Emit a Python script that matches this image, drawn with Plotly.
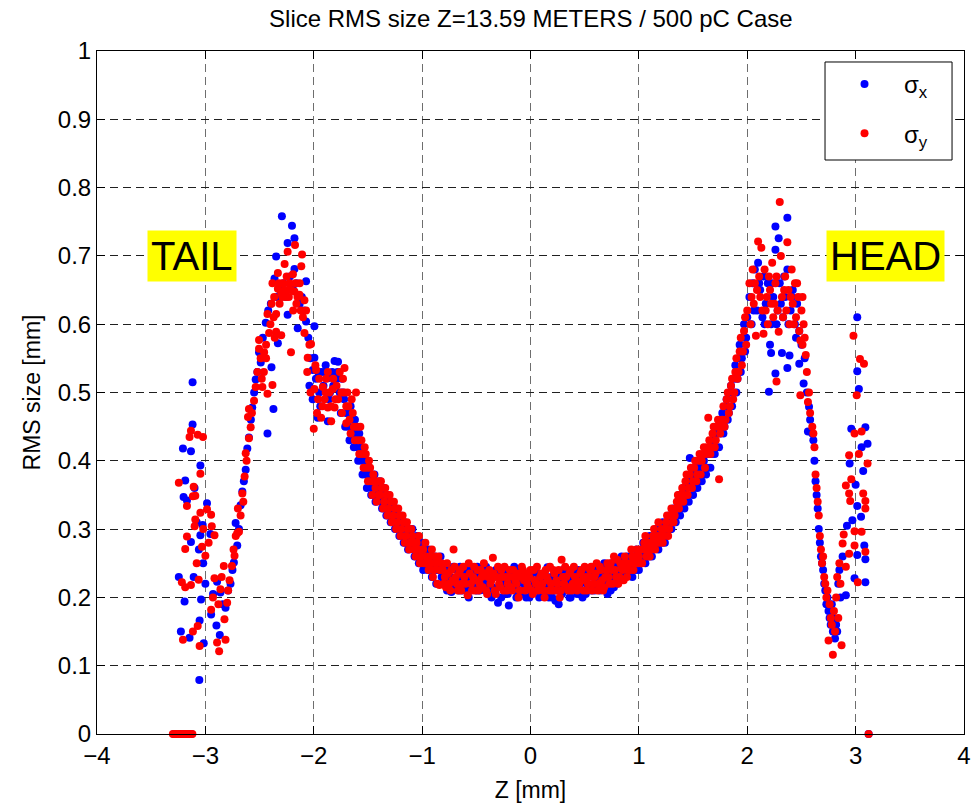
import plotly.graph_objects as go

# (z [mm], sigma_x [mm])
sigma_x_pts = [
    (-3.29, 0), (-3.27, 0), (-3.25, 0), (-3.23, 0), (-3.21, 0), (-3.19, 0), (-3.17, 0), (-3.15, 0), (-3.13, 0),
    (-3.245, 0.230), (-3.226, 0.150), (-3.207, 0.418), (-3.201, 0.347), (-3.192, 0.194), (-3.186, 0.371),
    (-3.170, 0.342), (-3.146, 0.141), (-3.133, 0.414), (-3.133, 0.281), (-3.118, 0.515), (-3.118, 0.453),
    (-3.108, 0.230), (-3.056, 0.079), (-3.053, 0.166), (-3.046, 0.393), (-3.046, 0.291), (-3.040, 0.197),
    (-3.025, 0.306), (-3.015, 0.133), (-2.985, 0.338), (-2.954, 0.293), (-3.10, 0.36), (-3.08, 0.31),
    (-3.06, 0.27), (-3.02, 0.25), (-3.00, 0.22),
    (-2.947, 0.175), (-2.929, 0.205), (-2.898, 0.159), (-2.892, 0.223), (-2.867, 0.145), (-2.861, 0.207),
    (-2.84, 0.19), (-2.814, 0.185), (-2.79, 0.21), (-2.768, 0.220), (-2.75, 0.24), (-2.737, 0.251),
    (-2.721, 0.309), (-2.706, 0.276), (-2.69, 0.30), (-2.675, 0.335), (-2.659, 0.355), (-2.645, 0.37),
    (-2.628, 0.387), (-2.613, 0.418), (-2.598, 0.434), (-2.58, 0.46), (-2.567, 0.478), (-2.55, 0.50),
    (-2.536, 0.519), (-2.52, 0.53), (-2.505, 0.559), (-2.489, 0.544), (-2.47, 0.58), (-2.443, 0.602),
    (-2.427, 0.440), (-2.42, 0.62), (-2.396, 0.630), (-2.390, 0.537), (-2.372, 0.476), (-2.362, 0.667),
    (-2.347, 0.699), (-2.34, 0.64), (-2.331, 0.572), (-2.31, 0.65), (-2.294, 0.758), (-2.28, 0.66),
    (-2.26, 0.64), (-2.241, 0.719), (-2.241, 0.614), (-2.22, 0.67), (-2.201, 0.744), (-2.19, 0.65),
    (-2.178, 0.726), (-2.178, 0.681), (-2.16, 0.66), (-2.148, 0.594), (-2.13, 0.63), (-2.11, 0.64),
    (-2.09, 0.62), (-2.071, 0.663), (-2.071, 0.604), (-2.05, 0.58), (-2.03, 0.55), (-2.009, 0.533),
    (-1.994, 0.597), (-1.994, 0.551), (-1.98, 0.52), (-1.963, 0.463), (-1.95, 0.50), (-1.93, 0.53),
    (-1.91, 0.51), (-1.89, 0.54), (-1.870, 0.521), (-1.870, 0.458), (-1.85, 0.50), (-1.83, 0.53),
    (-1.808, 0.546), (-1.79, 0.52), (-1.776, 0.545), (-1.76, 0.50),
    (-1.74, 0.52), (-1.72, 0.49), (-1.70, 0.47), (-1.68, 0.45), (-1.66, 0.48), (-1.64, 0.44), (-1.62, 0.46),
    (-1.60, 0.42), (-1.58, 0.44), (-1.56, 0.40), (-1.54, 0.41), (-1.52, 0.38), (-1.50, 0.39), (-1.48, 0.37),
    (-1.46, 0.36), (-1.44, 0.38), (-1.42, 0.35), (-1.40, 0.36), (-1.38, 0.34), (-1.36, 0.35), (-1.34, 0.33),
    (-1.32, 0.34), (-1.30, 0.32), (-1.28, 0.33), (-1.26, 0.31), (-1.24, 0.33), (-1.22, 0.30), (-1.20, 0.32),
    (-1.18, 0.29), (-1.16, 0.31), (-1.14, 0.28), (-1.12, 0.30), (-1.10, 0.29), (-1.08, 0.27), (-1.06, 0.28),
    (-1.04, 0.26), (-1.02, 0.27), (-1.00, 0.28), (-0.98, 0.26), (-0.96, 0.25), (-0.94, 0.27), (-0.92, 0.25),
    (-0.90, 0.24), (-0.88, 0.26), (-0.86, 0.24), (-0.84, 0.25), (-0.82, 0.23), (-0.80, 0.24),
    (-0.78, 0.22), (-0.76, 0.24), (-0.74, 0.23), (-0.73, 0.208), (-0.70, 0.22), (-0.68, 0.24), (-0.66, 0.21),
    (-0.64, 0.23), (-0.62, 0.22), (-0.60, 0.24), (-0.58, 0.21), (-0.56, 0.23), (-0.54, 0.22), (-0.52, 0.24),
    (-0.50, 0.21), (-0.48, 0.23), (-0.46, 0.22), (-0.44, 0.24), (-0.42, 0.21), (-0.40, 0.23), (-0.38, 0.22),
    (-0.36, 0.20), (-0.34, 0.23), (-0.32, 0.24), (-0.30, 0.192), (-0.28, 0.22), (-0.26, 0.23), (-0.24, 0.21),
    (-0.22, 0.24), (-0.20, 0.188), (-0.18, 0.22), (-0.16, 0.23), (-0.14, 0.21), (-0.12, 0.22), (-0.10, 0.24),
    (-0.08, 0.21), (-0.06, 0.22), (-0.04, 0.20), (-0.02, 0.23), (0.00, 0.21), (0.02, 0.22), (0.04, 0.24),
    (0.06, 0.21), (0.08, 0.20), (0.10, 0.22), (0.12, 0.23), (0.14, 0.21), (0.157, 0.244), (0.18, 0.22),
    (0.20, 0.20), (0.22, 0.23), (0.24, 0.21), (0.26, 0.19), (0.28, 0.22), (0.30, 0.24), (0.32, 0.21),
    (0.34, 0.22), (0.36, 0.20), (0.38, 0.23), (0.40, 0.22), (0.42, 0.21), (0.44, 0.24), (0.46, 0.22),
    (0.48, 0.20), (0.50, 0.23), (0.52, 0.22), (0.54, 0.24), (0.56, 0.21), (0.58, 0.23), (0.60, 0.22),
    (0.62, 0.24), (0.64, 0.21), (0.66, 0.23), (0.68, 0.25), (0.70, 0.22), (0.72, 0.24), (0.74, 0.21),
    (0.76, 0.23), (0.78, 0.25), (0.80, 0.22), (0.82, 0.24), (0.84, 0.26), (0.86, 0.23), (0.88, 0.25),
    (0.90, 0.24),
    (0.92, 0.26), (0.94, 0.23), (0.96, 0.25), (0.98, 0.27), (1.00, 0.24), (1.02, 0.26), (1.04, 0.28),
    (1.06, 0.25), (1.08, 0.27), (1.10, 0.29), (1.12, 0.26), (1.14, 0.28), (1.16, 0.30), (1.18, 0.27),
    (1.20, 0.29), (1.22, 0.31), (1.24, 0.28), (1.26, 0.30), (1.28, 0.32), (1.30, 0.30), (1.32, 0.33),
    (1.34, 0.31), (1.36, 0.34), (1.38, 0.32), (1.40, 0.35), (1.42, 0.33), (1.44, 0.36), (1.46, 0.34),
    (1.47, 0.404), (1.48, 0.37), (1.50, 0.35), (1.52, 0.38), (1.54, 0.36), (1.56, 0.39), (1.58, 0.37),
    (1.60, 0.40), (1.62, 0.38), (1.64, 0.41), (1.66, 0.39), (1.68, 0.43), (1.70, 0.41), (1.72, 0.44),
    (1.74, 0.42), (1.76, 0.46), (1.78, 0.44), (1.80, 0.48), (1.82, 0.46), (1.84, 0.50), (1.86, 0.48),
    (1.88, 0.52), (1.90, 0.50), (1.92, 0.55), (1.94, 0.53), (1.96, 0.58), (1.98, 0.56), (2.00, 0.61),
    (2.02, 0.64), (2.04, 0.60), (2.05, 0.66), (2.07, 0.68), (2.09, 0.62), (2.10, 0.69), (2.12, 0.65),
    (2.14, 0.61), (2.15, 0.67), (2.17, 0.63), (2.19, 0.66), (2.20, 0.501), (2.21, 0.570), (2.22, 0.558),
    (2.22, 0.60), (2.24, 0.64), (2.26, 0.743), (2.26, 0.528), (2.26, 0.709), (2.28, 0.62), (2.29, 0.726),
    (2.30, 0.66), (2.32, 0.558), (2.33, 0.61), (2.35, 0.64), (2.37, 0.756), (2.37, 0.536), (2.37, 0.68),
    (2.39, 0.554), (2.40, 0.62), (2.42, 0.65), (2.44, 0.60), (2.46, 0.63), (2.48, 0.542), (2.48, 0.59),
    (2.50, 0.57), (2.52, 0.513), (2.53, 0.55), (2.55, 0.50), (2.56, 0.443), (2.57, 0.479), (2.58, 0.46),
    (2.60, 0.44),
    (2.61, 0.43), (2.62, 0.40), (2.63, 0.37), (2.64, 0.35), (2.65, 0.33), (2.66, 0.30), (2.67, 0.28),
    (2.68, 0.26), (2.69, 0.25), (2.70, 0.24), (2.71, 0.22), (2.72, 0.21), (2.73, 0.19), (2.74, 0.20),
    (2.75, 0.18), (2.76, 0.17), (2.77, 0.16), (2.78, 0.19), (2.79, 0.15), (2.80, 0.17), (2.81, 0.14),
    (2.82, 0.16), (2.83, 0.15), (2.84, 0.22), (2.85, 0.24), (2.86, 0.20), (2.88, 0.26),
    (2.91, 0.203), (2.92, 0.305), (2.945, 0.396), (2.96, 0.447), (2.97, 0.313), (2.99, 0.228), (3.00, 0.365),
    (3.015, 0.610), (3.015, 0.531), (3.015, 0.334), (3.015, 0.262), (3.03, 0.505), (3.05, 0.318),
    (3.055, 0.42), (3.07, 0.385), (3.08, 0.276), (3.09, 0.449), (3.09, 0.256), (3.09, 0.222), (3.11, 0.425),
    (3.12, 0),
]

# second layer of sigma_x points where the reference band is dense
sigma_x_band = [
    (-2.04, 0.51), (-2.01, 0.49), (-1.96, 0.53), (-1.94, 0.48), (-1.90, 0.53), (-1.86, 0.49), (-1.82, 0.51),
    (-1.78, 0.53),
    (-1.75, 0.47), (-1.73, 0.50), (-1.71, 0.45), (-1.69, 0.47), (-1.67, 0.43), (-1.65, 0.46), (-1.63, 0.42),
    (-1.61, 0.44), (-1.59, 0.40), (-1.57, 0.42), (-1.55, 0.38), (-1.53, 0.40), (-1.51, 0.36), (-1.49, 0.38),
    (-1.47, 0.35), (-1.45, 0.37), (-1.43, 0.34), (-1.41, 0.35), (-1.39, 0.37), (-1.37, 0.33), (-1.35, 0.36),
    (-1.33, 0.32), (-1.31, 0.35), (-1.29, 0.31), (-1.27, 0.34), (-1.25, 0.30), (-1.23, 0.32), (-1.21, 0.29),
    (-1.19, 0.31), (-1.17, 0.28), (-1.15, 0.30), (-1.13, 0.27), (-1.11, 0.29), (-1.09, 0.30), (-1.07, 0.26),
    (-1.05, 0.29), (-1.03, 0.25), (-1.01, 0.28), (-0.99, 0.24), (-0.97, 0.27), (-0.95, 0.24), (-0.93, 0.26),
    (-0.91, 0.23), (-0.89, 0.25), (-0.87, 0.22), (-0.85, 0.24), (-0.83, 0.26), (-0.81, 0.22),
    (-0.79, 0.235), (-0.77, 0.21), (-0.75, 0.225), (-0.71, 0.245), (-0.69, 0.215), (-0.67, 0.23),
    (-0.65, 0.245), (-0.63, 0.21), (-0.61, 0.235), (-0.59, 0.22), (-0.57, 0.20), (-0.55, 0.24),
    (-0.53, 0.215), (-0.51, 0.23), (-0.49, 0.245), (-0.47, 0.21), (-0.45, 0.235), (-0.43, 0.22),
    (-0.41, 0.245), (-0.39, 0.205), (-0.37, 0.23), (-0.35, 0.215), (-0.33, 0.21), (-0.31, 0.235),
    (-0.29, 0.215), (-0.27, 0.20), (-0.25, 0.24), (-0.23, 0.22), (-0.21, 0.205), (-0.19, 0.235),
    (-0.17, 0.215), (-0.15, 0.245), (-0.13, 0.20), (-0.11, 0.225), (-0.09, 0.235), (-0.07, 0.205),
    (-0.05, 0.23), (-0.03, 0.215), (-0.01, 0.20), (0.01, 0.235), (0.03, 0.21), (0.05, 0.225), (0.07, 0.235),
    (0.09, 0.215), (0.11, 0.205), (0.13, 0.235), (0.15, 0.22), (0.17, 0.20), (0.19, 0.23), (0.21, 0.215),
    (0.23, 0.195), (0.25, 0.225), (0.27, 0.235), (0.29, 0.205), (0.31, 0.22), (0.33, 0.235), (0.35, 0.215),
    (0.37, 0.20), (0.39, 0.225), (0.41, 0.235), (0.43, 0.205), (0.45, 0.225), (0.47, 0.21), (0.49, 0.235),
    (0.51, 0.205), (0.53, 0.23), (0.55, 0.215), (0.57, 0.24), (0.59, 0.21), (0.61, 0.225), (0.63, 0.235),
    (0.65, 0.215), (0.67, 0.24), (0.69, 0.22), (0.71, 0.205), (0.73, 0.235), (0.75, 0.25), (0.77, 0.215),
    (0.79, 0.235), (0.81, 0.25), (0.83, 0.225), (0.85, 0.245), (0.87, 0.235), (0.89, 0.26), (0.91, 0.235),
    (0.93, 0.25), (0.95, 0.26), (0.97, 0.24), (0.99, 0.26), (1.01, 0.25), (1.03, 0.27), (1.05, 0.26),
    (1.07, 0.28), (1.09, 0.26), (1.11, 0.28), (1.13, 0.27), (1.15, 0.29), (1.17, 0.28), (1.19, 0.30),
    (1.21, 0.28), (1.23, 0.30), (1.25, 0.29), (1.27, 0.31), (1.29, 0.30), (1.31, 0.32), (1.33, 0.31),
    (1.35, 0.33), (1.37, 0.35), (1.39, 0.33), (1.41, 0.36), (1.43, 0.34), (1.45, 0.37), (1.49, 0.38),
    (1.51, 0.36), (1.53, 0.39), (1.55, 0.37), (1.57, 0.40), (1.59, 0.38), (1.61, 0.41), (1.63, 0.39),
    (1.65, 0.42), (1.67, 0.41), (1.69, 0.44), (1.71, 0.42), (1.73, 0.45), (1.75, 0.44), (1.77, 0.47),
    (1.79, 0.45), (1.81, 0.49), (1.83, 0.47), (1.85, 0.51), (1.87, 0.50), (1.89, 0.54), (1.91, 0.52),
    (1.93, 0.57), (1.95, 0.55), (1.97, 0.60), (1.99, 0.58),
    (2.06, 0.62), (2.11, 0.66), (2.16, 0.60), (2.23, 0.66), (2.27, 0.60), (2.31, 0.63), (2.34, 0.67),
    (2.38, 0.60), (2.41, 0.64), (2.45, 0.58),
]

# (z [mm], sigma_y [mm])
sigma_y_pts = [
    (-3.30, 0), (-3.28, 0), (-3.26, 0), (-3.24, 0), (-3.22, 0), (-3.20, 0), (-3.18, 0), (-3.16, 0), (-3.14, 0), (-3.12, 0),
    (-3.245, 0.368), (-3.217, 0.222), (-3.207, 0.138), (-3.186, 0.271), (-3.186, 0.215), (-3.170, 0.334),
    (-3.170, 0.289), (-3.146, 0.435), (-3.133, 0.444), (-3.133, 0.218), (-3.115, 0.348), (-3.115, 0.150),
    (-3.108, 0.362), (-3.099, 0.304), (-3.093, 0.349), (-3.093, 0.314), (-3.071, 0.438), (-3.071, 0.158),
    (-3.062, 0.226), (-3.053, 0.129), (-3.046, 0.381), (-3.046, 0.324), (-3.031, 0.274), (-3.022, 0.435),
    (-3.000, 0.261), (-2.985, 0.329), (-2.947, 0.321), (-2.941, 0.304), (-2.916, 0.291), (-3.08, 0.25),
    (-3.02, 0.30), (-2.97, 0.28),
    (-2.947, 0.182), (-2.930, 0.20), (-2.916, 0.228), (-2.892, 0.134), (-2.880, 0.19), (-2.873, 0.121),
    (-2.861, 0.212), (-2.850, 0.23), (-2.830, 0.246), (-2.824, 0.168), (-2.814, 0.138), (-2.799, 0.192),
    (-2.790, 0.21), (-2.777, 0.225), (-2.755, 0.246), (-2.740, 0.27), (-2.731, 0.261), (-2.720, 0.29),
    (-2.706, 0.294), (-2.700, 0.330), (-2.690, 0.296), (-2.675, 0.32), (-2.659, 0.352), (-2.650, 0.34),
    (-2.638, 0.377), (-2.628, 0.411), (-2.620, 0.40), (-2.607, 0.464), (-2.598, 0.433), (-2.598, 0.476),
    (-2.582, 0.449), (-2.570, 0.47), (-2.551, 0.488), (-2.536, 0.508), (-2.520, 0.53), (-2.505, 0.564),
    (-2.505, 0.577), (-2.490, 0.55), (-2.474, 0.508), (-2.458, 0.559), (-2.440, 0.57), (-2.427, 0.498),
    (-2.427, 0.615), (-2.412, 0.587), (-2.400, 0.60), (-2.381, 0.511), (-2.381, 0.660), (-2.365, 0.64),
    (-2.347, 0.589), (-2.347, 0.615), (-2.331, 0.675), (-2.331, 0.652), (-2.315, 0.63), (-2.300, 0.584),
    (-2.300, 0.645), (-2.285, 0.66), (-2.269, 0.688), (-2.255, 0.64), (-2.241, 0.650), (-2.241, 0.706),
    (-2.225, 0.66), (-2.210, 0.559), (-2.192, 0.673), (-2.178, 0.648), (-2.173, 0.716), (-2.160, 0.63),
    (-2.132, 0.643), (-2.115, 0.685), (-2.108, 0.702), (-2.100, 0.61), (-2.086, 0.635), (-2.086, 0.587),
    (-2.071, 0.620), (-2.056, 0.551), (-2.040, 0.57), (-2.025, 0.571), (-2.000, 0.447), (-1.994, 0.505),
    (-1.985, 0.54), (-1.978, 0.533), (-1.960, 0.49), (-1.932, 0.463), (-1.916, 0.508), (-1.900, 0.49),
    (-1.885, 0.52), (-1.870, 0.478), (-1.855, 0.50), (-1.839, 0.458), (-1.824, 0.505), (-1.808, 0.478),
    (-1.79, 0.51), (-1.775, 0.49), (-1.760, 0.53),
    (-1.745, 0.50), (-1.73, 0.52), (-1.716, 0.536), (-1.70, 0.48), (-1.69, 0.50), (-1.67, 0.46), (-1.65, 0.49),
    (-1.63, 0.45), (-1.61, 0.50), (-1.59, 0.43), (-1.57, 0.45), (-1.55, 0.41), (-1.53, 0.42), (-1.51, 0.39),
    (-1.49, 0.40), (-1.47, 0.37), (-1.45, 0.38), (-1.43, 0.36), (-1.41, 0.37), (-1.39, 0.35), (-1.37, 0.36),
    (-1.35, 0.34), (-1.33, 0.35), (-1.31, 0.33), (-1.29, 0.34), (-1.27, 0.32), (-1.25, 0.33), (-1.23, 0.31),
    (-1.21, 0.32), (-1.19, 0.30), (-1.17, 0.31), (-1.15, 0.29), (-1.13, 0.30), (-1.11, 0.28), (-1.09, 0.29),
    (-1.07, 0.27), (-1.05, 0.28), (-1.03, 0.29), (-1.01, 0.26), (-0.99, 0.27), (-0.97, 0.28), (-0.95, 0.25),
    (-0.93, 0.26), (-0.91, 0.27), (-0.89, 0.24), (-0.87, 0.25), (-0.85, 0.26), (-0.84, 0.218), (-0.81, 0.24),
    (-0.79, 0.23),
    (-0.77, 0.25), (-0.75, 0.22), (-0.73, 0.24), (-0.71, 0.27), (-0.69, 0.23), (-0.67, 0.21), (-0.65, 0.24),
    (-0.63, 0.22), (-0.61, 0.23), (-0.58, 0.203), (-0.57, 0.25), (-0.55, 0.22), (-0.53, 0.23), (-0.51, 0.21),
    (-0.49, 0.24), (-0.47, 0.22), (-0.45, 0.23), (-0.43, 0.25), (-0.41, 0.21), (-0.39, 0.23), (-0.37, 0.22),
    (-0.347, 0.258), (-0.33, 0.21), (-0.31, 0.23), (-0.29, 0.22), (-0.27, 0.24), (-0.25, 0.21), (-0.23, 0.23),
    (-0.21, 0.22), (-0.19, 0.24), (-0.17, 0.21), (-0.15, 0.23), (-0.13, 0.22), (-0.11, 0.20), (-0.09, 0.23),
    (-0.07, 0.24), (-0.05, 0.21), (-0.03, 0.22), (-0.01, 0.23), (0.01, 0.21), (0.03, 0.24), (0.05, 0.22),
    (0.07, 0.21), (0.09, 0.23), (0.11, 0.22), (0.13, 0.20), (0.15, 0.23), (0.17, 0.21), (0.19, 0.22),
    (0.21, 0.24), (0.23, 0.21), (0.25, 0.22), (0.27, 0.20), (0.287, 0.255), (0.31, 0.22), (0.33, 0.23),
    (0.35, 0.21), (0.37, 0.24), (0.39, 0.22), (0.41, 0.23), (0.43, 0.21), (0.45, 0.22), (0.47, 0.24),
    (0.49, 0.21), (0.51, 0.23), (0.53, 0.22), (0.55, 0.24), (0.57, 0.21), (0.59, 0.23), (0.61, 0.25),
    (0.63, 0.22), (0.65, 0.24), (0.67, 0.21), (0.69, 0.23), (0.71, 0.25), (0.73, 0.22), (0.75, 0.24),
    (0.77, 0.26), (0.79, 0.23), (0.81, 0.22), (0.83, 0.25), (0.85, 0.24), (0.87, 0.26), (0.89, 0.23),
    (0.91, 0.25), (0.93, 0.27), (0.95, 0.24), (0.97, 0.26), (0.99, 0.25), (1.01, 0.27), (1.03, 0.25),
    (1.05, 0.28), (1.07, 0.26), (1.09, 0.28), (1.11, 0.27), (1.13, 0.29), (1.15, 0.27), (1.17, 0.29),
    (1.19, 0.28), (1.21, 0.30), (1.23, 0.29), (1.25, 0.31), (1.27, 0.29), (1.29, 0.32), (1.31, 0.31),
    (1.33, 0.32), (1.35, 0.34), (1.37, 0.33), (1.39, 0.35), (1.41, 0.34), (1.43, 0.37), (1.45, 0.35),
    (1.47, 0.38), (1.49, 0.36), (1.51, 0.39), (1.53, 0.37), (1.55, 0.40), (1.57, 0.38), (1.59, 0.41),
    (1.61, 0.39), (1.63, 0.42), (1.64, 0.463), (1.66, 0.41), (1.68, 0.44), (1.70, 0.42), (1.72, 0.45),
    (1.74, 0.373), (1.75, 0.44), (1.77, 0.46), (1.79, 0.45), (1.81, 0.49), (1.83, 0.47), (1.85, 0.51),
    (1.87, 0.49), (1.89, 0.53), (1.91, 0.52), (1.93, 0.56), (1.95, 0.54), (1.97, 0.59), (1.99, 0.57),
    (2.00, 0.62),
    (2.02, 0.66), (2.03, 0.60), (2.05, 0.68), (2.06, 0.63), (2.08, 0.583), (2.09, 0.65), (2.10, 0.721),
    (2.11, 0.67), (2.13, 0.712), (2.14, 0.62), (2.15, 0.586), (2.16, 0.68), (2.18, 0.64), (2.19, 0.60),
    (2.20, 0.67), (2.22, 0.63), (2.23, 0.69), (2.24, 0.61), (2.26, 0.66), (2.27, 0.516), (2.28, 0.62),
    (2.29, 0.589), (2.30, 0.779), (2.31, 0.70), (2.32, 0.64), (2.33, 0.61), (2.35, 0.67), (2.36, 0.62),
    (2.37, 0.720), (2.38, 0.65), (2.39, 0.60), (2.41, 0.68), (2.42, 0.63), (2.44, 0.66), (2.45, 0.61),
    (2.47, 0.64), (2.48, 0.59), (2.49, 0.576), (2.49, 0.496), (2.50, 0.62), (2.51, 0.57), (2.52, 0.60),
    (2.54, 0.555), (2.55, 0.53), (2.56, 0.486), (2.57, 0.50), (2.58, 0.47), (2.60, 0.45),
    (2.61, 0.44), (2.62, 0.42), (2.63, 0.38), (2.64, 0.36), (2.65, 0.34), (2.66, 0.32), (2.67, 0.29),
    (2.68, 0.27), (2.69, 0.25), (2.70, 0.26), (2.71, 0.23), (2.72, 0.22), (2.73, 0.20), (2.74, 0.21),
    (2.75, 0.137), (2.76, 0.19), (2.77, 0.17), (2.78, 0.16), (2.79, 0.116), (2.80, 0.18), (2.81, 0.15),
    (2.82, 0.20), (2.83, 0.23), (2.84, 0.17), (2.85, 0.25), (2.86, 0.22), (2.87, 0.130), (2.88, 0.279),
    (2.89, 0.292), (2.91, 0.364), (2.91, 0.245), (2.94, 0.408), (2.94, 0.352), (2.94, 0.264), (2.95, 0.341),
    (2.96, 0.373), (2.98, 0.583), (2.99, 0.44), (2.99, 0.297), (2.99, 0.276), (3.01, 0.496), (3.02, 0.222),
    (3.03, 0.41), (3.04, 0.549), (3.055, 0.443), (3.055, 0.296), (3.07, 0.352), (3.077, 0.542),
    (3.09, 0.341), (3.09, 0.33), (3.09, 0.267), (3.11, 0.396),
    (3.12, 0),
]

# second layer of sigma_y points where the reference band is dense
sigma_y_band = [
    (-2.48, 0.52), (-2.46, 0.53), (-2.44, 0.55), (-2.39, 0.63), (-2.37, 0.61), (-2.36, 0.58), (-2.32, 0.66),
    (-2.29, 0.64), (-2.27, 0.65), (-2.25, 0.67), (-2.23, 0.64), (-2.21, 0.65), (-2.19, 0.62), (-2.17, 0.66),
    (-2.15, 0.64), (-2.13, 0.66), (-2.12, 0.62),
    (-2.06, 0.53), (-2.03, 0.50), (-1.97, 0.47), (-1.95, 0.52), (-1.92, 0.48), (-1.89, 0.50), (-1.87, 0.53),
    (-1.84, 0.48), (-1.82, 0.52), (-1.80, 0.49),
    (-1.74, 0.47), (-1.72, 0.50), (-1.70, 0.455), (-1.68, 0.48), (-1.66, 0.44), (-1.64, 0.47), (-1.62, 0.43),
    (-1.60, 0.45), (-1.58, 0.41), (-1.56, 0.43), (-1.54, 0.39), (-1.52, 0.41), (-1.50, 0.37), (-1.48, 0.39),
    (-1.46, 0.35), (-1.44, 0.37), (-1.42, 0.34), (-1.40, 0.35), (-1.38, 0.37), (-1.36, 0.33), (-1.34, 0.36),
    (-1.32, 0.32), (-1.30, 0.35), (-1.28, 0.31), (-1.26, 0.34), (-1.24, 0.30), (-1.22, 0.33), (-1.20, 0.29),
    (-1.18, 0.32), (-1.16, 0.28), (-1.14, 0.31), (-1.12, 0.27), (-1.10, 0.30), (-1.08, 0.28), (-1.06, 0.26),
    (-1.04, 0.27), (-1.02, 0.25), (-1.00, 0.27), (-0.98, 0.25), (-0.96, 0.26), (-0.94, 0.24), (-0.92, 0.25),
    (-0.90, 0.23), (-0.88, 0.26), (-0.86, 0.22), (-0.84, 0.24), (-0.82, 0.25), (-0.80, 0.22),
    (-0.78, 0.215), (-0.76, 0.235), (-0.74, 0.21), (-0.72, 0.225), (-0.70, 0.245), (-0.68, 0.22),
    (-0.66, 0.235), (-0.64, 0.21), (-0.62, 0.245), (-0.60, 0.22), (-0.56, 0.235), (-0.54, 0.21),
    (-0.52, 0.245), (-0.50, 0.225), (-0.48, 0.21), (-0.46, 0.24), (-0.44, 0.215), (-0.42, 0.235),
    (-0.40, 0.205), (-0.38, 0.24), (-0.36, 0.225), (-0.34, 0.235), (-0.32, 0.205), (-0.30, 0.245),
    (-0.28, 0.215), (-0.26, 0.23), (-0.24, 0.245), (-0.22, 0.21), (-0.20, 0.23), (-0.18, 0.215),
    (-0.16, 0.24), (-0.14, 0.225), (-0.12, 0.235), (-0.10, 0.21), (-0.08, 0.245), (-0.06, 0.225),
    (-0.04, 0.235), (-0.02, 0.215), (0.00, 0.24), (0.02, 0.205), (0.04, 0.225), (0.06, 0.245), (0.08, 0.215),
    (0.10, 0.235), (0.12, 0.21), (0.14, 0.24), (0.16, 0.225), (0.18, 0.245), (0.20, 0.21), (0.22, 0.235),
    (0.24, 0.225), (0.26, 0.24), (0.28, 0.21), (0.30, 0.23), (0.32, 0.245), (0.34, 0.215), (0.36, 0.235),
    (0.38, 0.21), (0.40, 0.245), (0.42, 0.225), (0.44, 0.215), (0.46, 0.235), (0.48, 0.225), (0.50, 0.245),
    (0.52, 0.21), (0.54, 0.23), (0.56, 0.245), (0.58, 0.22), (0.60, 0.235), (0.62, 0.21), (0.64, 0.245),
    (0.66, 0.225), (0.68, 0.215), (0.70, 0.24), (0.72, 0.23), (0.74, 0.25), (0.76, 0.22), (0.78, 0.24),
    (0.80, 0.255), (0.82, 0.23), (0.84, 0.245), (0.86, 0.225), (0.88, 0.25), (0.90, 0.24),
    (0.92, 0.24), (0.94, 0.26), (0.96, 0.25), (0.98, 0.27), (1.00, 0.26), (1.02, 0.25), (1.04, 0.27),
    (1.06, 0.29), (1.08, 0.27), (1.10, 0.26), (1.12, 0.28), (1.14, 0.30), (1.16, 0.28), (1.18, 0.31),
    (1.20, 0.29), (1.22, 0.28), (1.24, 0.30), (1.26, 0.32), (1.28, 0.30), (1.30, 0.33), (1.32, 0.31),
    (1.34, 0.33), (1.36, 0.35), (1.38, 0.34), (1.40, 0.36), (1.42, 0.35), (1.44, 0.38), (1.46, 0.36),
    (1.48, 0.39), (1.50, 0.37), (1.52, 0.40), (1.54, 0.38), (1.56, 0.41), (1.58, 0.40), (1.60, 0.42),
    (1.62, 0.41), (1.65, 0.43), (1.67, 0.42), (1.69, 0.45), (1.71, 0.43), (1.73, 0.46), (1.76, 0.45),
    (1.78, 0.48), (1.80, 0.46), (1.82, 0.50), (1.84, 0.48), (1.86, 0.52), (1.88, 0.50), (1.90, 0.55),
    (1.92, 0.53), (1.94, 0.58), (1.96, 0.56), (1.98, 0.61),
    (2.04, 0.64), (2.07, 0.66), (2.12, 0.64), (2.17, 0.62), (2.21, 0.65), (2.25, 0.63), (2.27, 0.67),
    (2.34, 0.65), (2.40, 0.64), (2.43, 0.60), (2.46, 0.66), (2.51, 0.64), (2.53, 0.58),
]

x_ticks = [-4, -3, -2, -1, 0, 1, 2, 3, 4]
y_ticks = [0, 0.1, 0.2, 0.3, 0.4, 0.5, 0.6, 0.7, 0.8, 0.9, 1]
series_names = ["σ<sub>x</sub>", "σ<sub>y</sub>"]
labels = [("TAIL", -3.12, 0.70), ("HEAD", 3.28, 0.70)]

FONT = "Liberation Sans, Arial, sans-serif"

zx, vx = zip(*(sigma_x_pts + sigma_x_band))
zy, vy = zip(*(sigma_y_pts + sigma_y_band))

fig = go.Figure()
fig.add_trace(go.Scatter(x=zx, y=vx, mode="markers", name=series_names[0], legendgroup="a",
                         marker=dict(color="#0000ff", size=8), cliponaxis=False))
fig.add_trace(go.Scatter(x=zy, y=vy, mode="markers", name=series_names[1], legendgroup="b",
                         marker=dict(color="#ff0000", size=8), cliponaxis=False))

for txt, xx, yy in labels:
    fig.add_annotation(x=xx, y=yy, text=txt, showarrow=False, bgcolor="#ffff00",
                       font=dict(family=FONT, size=40, color="black"), borderpad=3)

# legend frame (white box with black border), legend entries are drawn inside it
fig.add_shape(type="rect", xref="paper", yref="paper", x0=0.8397, x1=0.9862, y0=0.8404, y1=0.9839,
              line=dict(color="black", width=1), fillcolor="white", layer="above")

axis_common = dict(showline=True, linecolor="black", linewidth=1, mirror="ticks", ticks="inside",
                   ticklen=8, tickcolor="black", zeroline=False, showgrid=True, gridwidth=1,
                   tickfont=dict(family=FONT, size=24, color="black"))

fig.update_xaxes(range=[-4, 4], tickvals=x_ticks, gridcolor="#6e6e6e", griddash="8px,5px",
                 title=dict(text="Z [mm]", font=dict(family=FONT, size=23, color="black"), standoff=14),
                 **axis_common)
fig.update_yaxes(range=[0, 1], tickvals=y_ticks, gridcolor="#202020", griddash="8px,5px",
                 title=dict(text="RMS size [mm]", font=dict(family=FONT, size=23, color="black"), standoff=10),
                 **axis_common)

fig.update_layout(
    width=974, height=806,
    margin=dict(l=97, r=10, t=51, b=72, autoexpand=False),
    paper_bgcolor="white", plot_bgcolor="white",
    title=dict(text="Slice RMS size Z=13.59 METERS / 500 pC Case", x=0.545, xanchor="center",
               y=0.977, yanchor="middle", font=dict(family=FONT, size=24, color="black")),
    showlegend=True,
    legend=dict(x=0.8397, y=0.984, xanchor="left", yanchor="top", bgcolor="rgba(0,0,0,0)",
                borderwidth=0, font=dict(family=FONT, size=24, color="black"),
                itemwidth=69, tracegroupgap=15),
)

fig.write_html("out.html")
